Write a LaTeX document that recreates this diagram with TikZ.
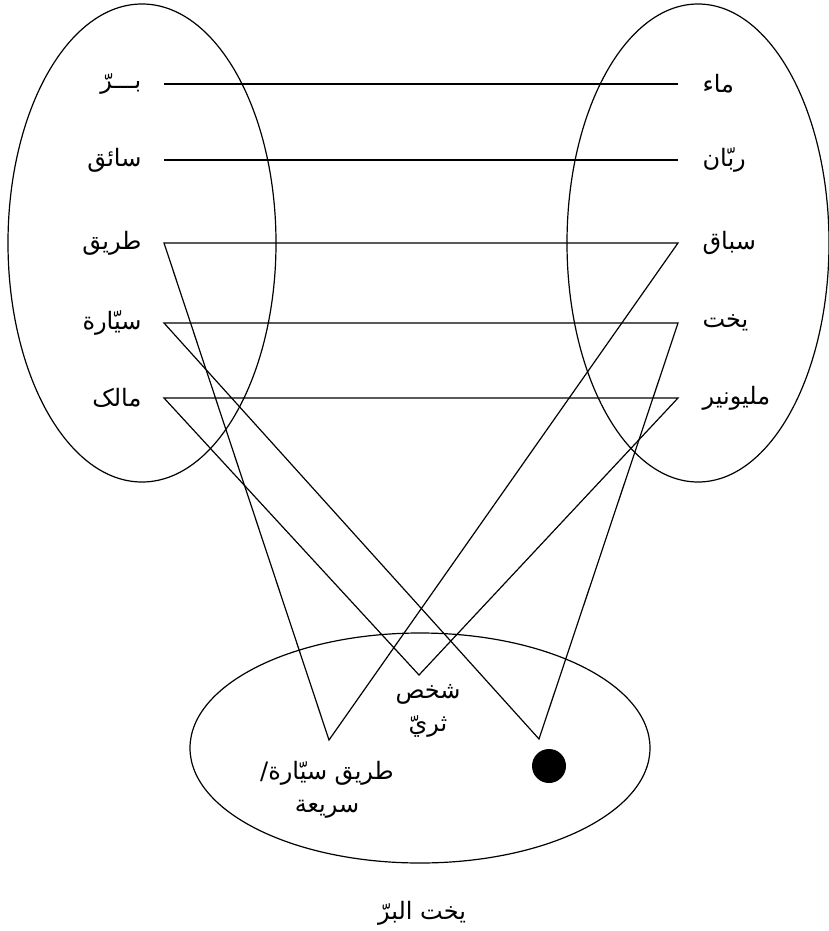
\documentclass[tikz,border=0pt]{standalone}
\usepackage{fontspec}
\newfontfamily\arabicfont[Script=Arabic]{DejaVu Sans}
\TeXXeTstate=1

\begin{document}
\begin{tikzpicture}[x=1pt,y=-1pt,line width=1.2pt,
  word/.style={font=\arabicfont\fontsize{24}{28}\selectfont,inner sep=0pt},
  pairtext/.style={font=\arabicfont\fontsize{24}{33}\selectfont,inner sep=0pt,align=center}]

% Page frame
\useasboundingbox (0,0) rectangle (829,931);

% The two word groups and the yacht group
\draw (142,243) ellipse (134pt and 239pt);
\draw (698,243) ellipse (131pt and 239pt);
\draw (420,748) ellipse (230pt and 115pt);

% Left words
\node[word,anchor=east] (barr) at (142,84) {\beginR بـــرّ\endR};
\node[word,anchor=east] (saiq) at (142,160) {\beginR سائق\endR};
\node[word,anchor=east] (tariq) at (142,243) {\beginR طريق\endR};
\node[word,anchor=east] (sayyara) at (142,323) {\beginR سيّارة\endR};
\node[word,anchor=east] (malik) at (142,398) {\beginR مالک\endR};

% Right words
\node[word,anchor=west] (maa) at (702,84) {\beginR ماء\endR};
\node[word,anchor=west] (rubban) at (702,160) {\beginR ربّان\endR};
\node[word,anchor=west] (sibaq) at (702,243) {\beginR سباق\endR};
\node[word,anchor=west] (yakht) at (702,323) {\beginR يخت\endR};
\node[word,anchor=west] (milyunir) at (702,398) {\beginR مليونير\endR};

% Line ends beside the words
\coordinate (lbarr) at (164,84);
\coordinate (lsaiq) at (164,160);
\coordinate (ltariq) at (164,243);
\coordinate (lsayyara) at (164,323);
\coordinate (lmalik) at (164,398);
\coordinate (rmaa) at (678,84);
\coordinate (rrubban) at (678,160);
\coordinate (rsibaq) at (678,243);
\coordinate (ryakht) at (678,323);
\coordinate (rmilyunir) at (678,398);

% Blend points
\coordinate (highway) at (329,740);
\coordinate (rich) at (419,675);
\coordinate (landyacht) at (539,739);

% Plain matches
\draw (lbarr) -- (rmaa);
\draw (lsaiq) -- (rrubban);

% Projections into the blend
\draw (highway) -- (ltariq) -- (rsibaq) -- cycle;
\draw (rich) -- (lmalik) -- (rmilyunir) -- cycle;
\draw (landyacht) -- (lsayyara) -- (ryakht) -- cycle;

% Blend contents
\fill (549,766) circle (17pt);
\node[pairtext] (richtext) at (428,711) {\beginR شخص\endR\\\beginR ثريّ\endR};
\node[pairtext] (roadtext) at (327,790) {\beginR طريق سيّارة/\endR\\\beginR سريعة\endR};

% Title
\node[word] (title) at (422,913) {\beginR يخت البرّ\endR};

\end{tikzpicture}
\end{document}
